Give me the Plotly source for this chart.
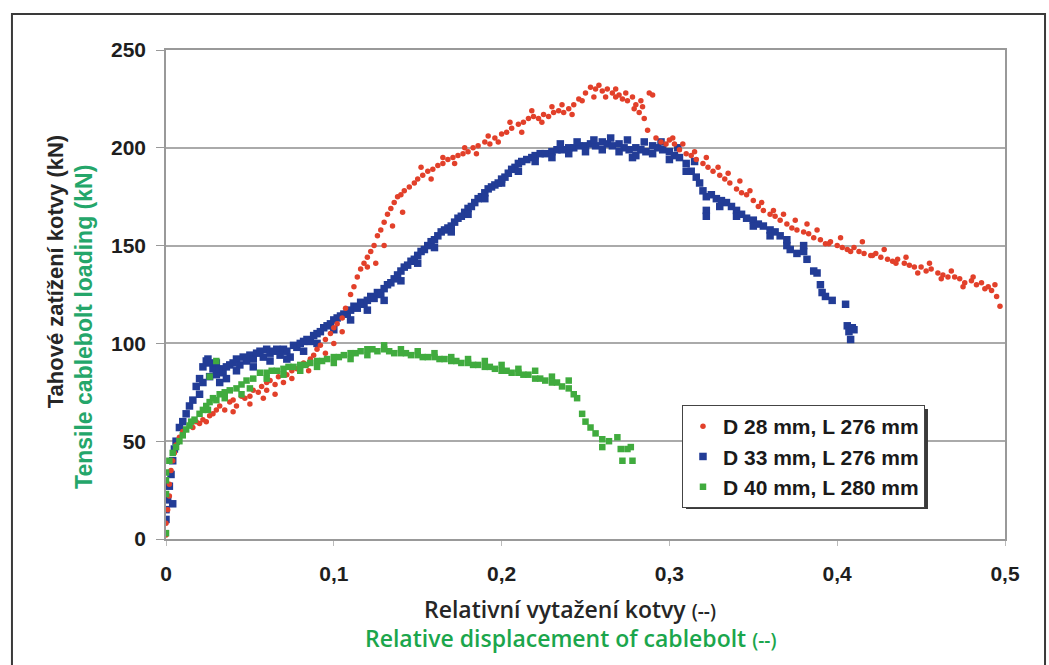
import plotly.graph_objects as go

# Relative displacement (--) and tensile load (kN) for each cablebolt test
d28_x = [0, 0, 0.001, 0.002, 0.002, 0.003, 0.004, 0.005, 0.006, 0.008, 0.01, 0.012, 0.014, 0.016, 0.018,
         0.02, 0.022, 0.024, 0.026, 0.028, 0.03, 0.032, 0.035, 0.038, 0.04, 0.042, 0.045, 0.047, 0.05,
         0.052, 0.055, 0.057, 0.06, 0.06, 0.062, 0.065, 0.067, 0.07, 0.07, 0.072, 0.075, 0.078, 0.08,
         0.082, 0.084, 0.086, 0.088, 0.09, 0.092, 0.095, 0.098, 0.1, 0.102, 0.105, 0.107, 0.11, 0.112,
         0.114, 0.116, 0.118, 0.12, 0.122, 0.124, 0.126, 0.128, 0.13, 0.132, 0.134, 0.136, 0.138, 0.14,
         0.141, 0.142, 0.145, 0.148, 0.15, 0.153, 0.156, 0.159, 0.162, 0.165, 0.168, 0.171, 0.174, 0.177,
         0.18, 0.183, 0.186, 0.19, 0.193, 0.196, 0.2, 0.203, 0.206, 0.21, 0.213, 0.216, 0.219, 0.222,
         0.225, 0.228, 0.231, 0.234, 0.237, 0.24, 0.243, 0.246, 0.25, 0.253, 0.256, 0.258, 0.26, 0.263,
         0.266, 0.268, 0.27, 0.272, 0.275, 0.278, 0.28, 0.282, 0.284, 0.285, 0.287, 0.288, 0.29, 0.292,
         0.295, 0.298, 0.3, 0.303, 0.306, 0.31, 0.313, 0.316, 0.32, 0.323, 0.326, 0.33, 0.333, 0.336,
         0.34, 0.343, 0.346, 0.35, 0.353, 0.356, 0.36, 0.363, 0.366, 0.37, 0.373, 0.376, 0.38, 0.383,
         0.386, 0.39, 0.393, 0.396, 0.4, 0.403, 0.406, 0.41, 0.413, 0.416, 0.42, 0.423, 0.426, 0.43,
         0.433, 0.436, 0.44, 0.443, 0.446, 0.45, 0.453, 0.456, 0.46, 0.463, 0.466, 0.47, 0.473, 0.476,
         0.48, 0.483, 0.486, 0.49, 0.492, 0.495, 0.497,
         # scattered readings around the main band
         0.04, 0.05, 0.058, 0.065, 0.075, 0.085, 0.09, 0.095, 0.1, 0.105, 0.12, 0.125, 0.13, 0.135,
         0.152, 0.158, 0.165, 0.172, 0.178, 0.185, 0.192, 0.198, 0.205, 0.212, 0.218, 0.224, 0.23,
         0.236, 0.242, 0.248, 0.255, 0.262, 0.268, 0.274, 0.279, 0.283, 0.302, 0.308, 0.315, 0.322,
         0.329, 0.335, 0.342, 0.348, 0.355, 0.362, 0.368, 0.375, 0.382, 0.388, 0.395, 0.402, 0.408,
         0.415, 0.421, 0.428, 0.435, 0.441, 0.448, 0.455, 0.462, 0.468, 0.475, 0.481, 0.488, 0.494]
d28_y = [2, 8, 15, 22, 28, 35, 40, 44, 48, 52, 55, 56, 58, 57, 60,
         59, 61, 60, 63, 64, 66, 68, 66, 70, 71, 68, 73, 72, 73,
         76, 75, 78, 80, 76, 81, 79, 83, 80, 85, 84, 86, 87, 88,
         90, 89, 92, 94, 97, 99, 102, 105, 108, 110, 113, 118, 125, 129,
         134, 138, 141, 144, 147, 150, 155, 158, 162, 166, 169, 172, 175, 176,
         167, 178, 180, 182, 184, 186, 188, 189, 191, 192, 194, 195, 196, 197,
         198, 200, 201, 203, 202, 205, 207, 208, 210, 212, 213, 215, 216, 215,
         217, 216, 218, 219, 218, 220, 222, 225, 228, 231, 230, 232, 229, 230,
         228, 226, 227, 225, 224, 226, 222, 218, 221, 215, 209, 228, 227, 205,
         203, 202, 204, 202, 199, 197, 196, 194, 192, 190, 188, 186, 184, 182,
         179, 177, 176, 173, 170, 168, 166, 165, 163, 161, 159, 158, 157, 156,
         154, 153, 151, 152, 150, 149, 148, 149, 147, 146, 145, 146, 144, 143,
         142, 143, 141, 140, 139, 139, 137, 138, 136, 135, 134, 134, 133, 131,
         132, 130, 131, 129, 127, 124, 119,
         65, 69, 72, 74, 82, 86, 90, 95, 100, 106, 139, 141, 150, 160,
         190, 184, 195, 192, 200, 197, 206, 203, 213, 208, 219, 213, 221,
         222, 217, 224, 226, 226, 230, 228, 220, 224, 205, 202, 198, 195,
         190, 187, 183, 178, 172, 168, 166, 163, 161, 158, 151, 154, 147,
         152, 145, 148, 141, 144, 136, 141, 133, 137, 129, 134, 128, 130]

d33_x = [0, 0, 0.001, 0.002, 0.003, 0.004, 0.004, 0.005, 0.006, 0.008, 0.01, 0.012, 0.014, 0.016,
         0.018, 0.02, 0.02, 0.022, 0.022, 0.024, 0.026, 0.026, 0.028, 0.03, 0.03, 0.032, 0.034, 0.036,
         0.036, 0.038, 0.04, 0.042, 0.044, 0.046, 0.048, 0.05, 0.052, 0.054, 0.056, 0.058, 0.06, 0.062,
         0.064, 0.066, 0.068, 0.07, 0.072, 0.074, 0.076, 0.078, 0.08, 0.082, 0.084, 0.086, 0.088, 0.09,
         0.092, 0.094, 0.096, 0.098, 0.1, 0.102, 0.104, 0.106, 0.108, 0.11, 0.112, 0.114, 0.116, 0.118,
         0.12, 0.122, 0.124, 0.126, 0.128, 0.13, 0.132, 0.134, 0.136, 0.138, 0.14, 0.142, 0.144, 0.146,
         0.148, 0.15, 0.152, 0.154, 0.156, 0.158, 0.16, 0.162, 0.164, 0.166, 0.168, 0.17, 0.172, 0.174,
         0.176, 0.178, 0.18, 0.182, 0.184, 0.186, 0.188, 0.19, 0.192, 0.194, 0.196, 0.198, 0.2, 0.202,
         0.204, 0.206, 0.208, 0.21, 0.212, 0.215, 0.218, 0.22, 0.223, 0.226, 0.23, 0.233, 0.236, 0.24,
         0.243, 0.246, 0.25, 0.253, 0.256, 0.26, 0.263, 0.266, 0.27, 0.273, 0.276, 0.278, 0.28, 0.283,
         0.286, 0.29, 0.293, 0.296, 0.3, 0.303, 0.306, 0.31, 0.313, 0.316, 0.318, 0.32, 0.322, 0.322,
         0.322, 0.325, 0.328, 0.331, 0.334, 0.337, 0.34, 0.343, 0.346, 0.35, 0.353, 0.356, 0.36, 0.363,
         0.366, 0.37, 0.372, 0.376, 0.38, 0.382, 0.386, 0.388, 0.39, 0.391, 0.393, 0.397, 0.405, 0.406,
         0.407, 0.408, 0.409, 0.41,
         # scattered readings around the main band
         0.025, 0.032, 0.042, 0.052, 0.062, 0.072, 0.082, 0.09, 0.1, 0.11, 0.12, 0.13, 0.14, 0.15,
         0.16, 0.17, 0.18, 0.19, 0.2, 0.21, 0.22, 0.23, 0.235, 0.24, 0.245, 0.25, 0.255, 0.26, 0.265,
         0.27, 0.275, 0.28, 0.285, 0.29, 0.295, 0.3, 0.305, 0.31, 0.315, 0.33, 0.34, 0.35, 0.36, 0.37,
         0.38]
d33_y = [10, 15, 20, 27, 33, 18, 40, 46, 50, 57, 60, 64, 68, 71,
         78, 82, 74, 88, 80, 91, 90, 83, 87, 84, 90, 87, 85, 88,
         82, 89, 90, 92, 89, 93, 91, 94, 92, 95, 96, 93, 97, 95,
         96, 97, 94, 97, 96, 93, 99, 98, 100, 101, 102, 101, 104, 105,
         106, 108, 109, 110, 112, 113, 114, 115, 115, 117, 119, 118, 121, 120,
         122, 124, 123, 126, 125, 128, 130, 131, 133, 135, 137, 139, 140, 142,
         143, 145, 147, 148, 150, 152, 153, 155, 157, 158, 159, 160, 162, 164,
         165, 167, 169, 170, 172, 174, 175, 177, 179, 180, 181, 182, 184, 185,
         187, 189, 190, 192, 193, 194, 195, 196, 197, 197, 198, 199, 199, 200,
         200, 201, 201, 202, 201, 203, 202, 201, 202, 200, 199, 195, 200, 199,
         198, 201, 200, 199, 198, 196, 195, 192, 188, 185, 182, 178, 175, 168,
         165, 176, 174, 173, 172, 170, 168, 166, 164, 163, 161, 160, 158, 157,
         155, 150, 148, 146, 147, 143, 137, 136, 130, 126, 124, 122, 120, 109,
         106, 102, 108, 107,
         92, 80, 86, 88, 91, 92, 96, 100, 107, 112, 117, 122, 132, 141,
         149, 157, 166, 174, 182, 188, 193, 195, 202, 197, 203, 198, 204, 199, 205,
         198, 204, 196, 203, 197, 203, 194, 200, 188, 193, 170, 165, 160, 155, 153,
         150]

d40_x = [0, 0, 0, 0, 0.002, 0.004, 0.006, 0.008, 0.01, 0.012, 0.014, 0.017, 0.02, 0.022, 0.024,
         0.026, 0.026, 0.028, 0.03, 0.03, 0.032, 0.035, 0.038, 0.042, 0.045, 0.048, 0.052, 0.056, 0.06,
         0.063, 0.066, 0.07, 0.073, 0.076, 0.08, 0.083, 0.086, 0.09, 0.093, 0.096, 0.1, 0.103, 0.106,
         0.11, 0.113, 0.116, 0.12, 0.123, 0.126, 0.13, 0.133, 0.136, 0.14, 0.143, 0.146, 0.15, 0.153,
         0.156, 0.16, 0.163, 0.166, 0.17, 0.173, 0.176, 0.18, 0.183, 0.186, 0.19, 0.193, 0.196, 0.2,
         0.203, 0.206, 0.21, 0.213, 0.216, 0.22, 0.223, 0.226, 0.23, 0.233, 0.236, 0.24, 0.243, 0.245,
         0.248, 0.25, 0.253, 0.256, 0.26, 0.26, 0.264, 0.269, 0.271, 0.272, 0.275, 0.277, 0.278,
         # scattered readings around the main band
         0.015, 0.025, 0.035, 0.045, 0.05, 0.06, 0.07, 0.08, 0.09, 0.1, 0.11, 0.12, 0.13, 0.14, 0.15,
         0.16, 0.17, 0.18, 0.19, 0.2, 0.21, 0.22, 0.23, 0.24]
d40_y = [3, 23, 30, 34, 40, 44, 47, 50, 53, 56, 58, 61, 64, 66, 68,
         70, 83, 72, 71, 91, 74, 75, 76, 77, 79, 81, 82, 85, 85,
         86, 86, 87, 88, 88, 89, 89, 90, 91, 91, 92, 93, 93, 94,
         95, 95, 96, 97, 97, 96, 97, 96, 95, 95, 95, 94, 94, 93,
         93, 93, 92, 92, 91, 91, 90, 90, 89, 89, 88, 88, 87, 86,
         86, 85, 85, 84, 84, 82, 82, 81, 80, 80, 78, 77, 74, 72,
         64, 60, 57, 54, 51, 47, 50, 52, 46, 40, 46, 47, 40,
         60, 66, 72, 74, 77, 82, 84, 86, 88, 90, 92, 94, 99, 97, 96,
         95, 93, 92, 91, 89, 87, 86, 83, 81]

series_names = ["D 28 mm, L 276 mm", "D 33 mm, L 276 mm", "D 40 mm, L 280 mm"]

x_ticks = [0, 0.1, 0.2, 0.3, 0.4, 0.5]
x_tick_text = ["0", "0,1", "0,2", "0,3", "0,4", "0,5"]
y_ticks = [0, 50, 100, 150, 200, 250]

RED = "#e2402a"
BLUE = "#223c96"
GREEN = "#40ab3e"

fig = go.Figure()
fig.add_trace(go.Scatter(x=d33_x, y=d33_y, mode="markers", name=series_names[1],
                         legendrank=2, legendgroup="b",
                         marker=dict(symbol="square", size=7.5, color=BLUE)))
fig.add_trace(go.Scatter(x=d28_x, y=d28_y, mode="markers", name=series_names[0],
                         legendrank=1, legendgroup="a",
                         marker=dict(symbol="circle", size=5.5, color=RED)))
fig.add_trace(go.Scatter(x=d40_x, y=d40_y, mode="markers", name=series_names[2],
                         legendrank=3, legendgroup="c",
                         marker=dict(symbol="square", size=6.5, color=GREEN)))

tick_font = dict(family="Liberation Sans, Arial", size=21, color="#1e1e1e", weight="bold")

fig.update_layout(
    width=1049, height=665,
    margin=dict(l=166, r=44, t=50, b=126),
    paper_bgcolor="white", plot_bgcolor="white",
    showlegend=True,
    legend=dict(
        x=0.615, y=0.274, xanchor="left", yanchor="top",
        bgcolor="white", bordercolor="#444", borderwidth=1,
        font=dict(family="Liberation Sans, Arial", size=21, color="#1a1a1a", weight="bold"),
        itemsizing="trace", tracegroupgap=0, itemwidth=30,
    ),
    xaxis=dict(
        range=[0, 0.5], tickvals=x_ticks, ticktext=x_tick_text,
        showgrid=False, zeroline=False,
        showline=True, linecolor="#999", linewidth=1.5, mirror=True,
        ticks="outside", ticklen=5, tickcolor="#bbb",
        tickfont=tick_font, ticklabelstandoff=10,
    ),
    yaxis=dict(
        range=[0, 250], tickvals=y_ticks,
        showgrid=True, gridcolor="#aaa", gridwidth=1.5, zeroline=False,
        showline=True, linecolor="#999", linewidth=1.5, mirror=True,
        ticks="outside", ticklen=8, tickcolor="#999",
        tickfont=tick_font, ticklabelstandoff=6,
    ),
)

# Outer frame around the whole figure
fig.add_shape(type="rect", xref="paper", yref="paper",
              x0=-0.1836, x1=1.0477, y0=-0.30, y1=1.0736,
              line=dict(color="#3a3a3a", width=2), layer="below")

# Drop shadow behind the legend box
fig.add_shape(type="rect", xref="paper", yref="paper",
              x0=0.6198, x1=0.9082, y0=0.0613, y1=0.2658,
              line=dict(width=0), fillcolor="#3a3a3a", layer="above")

# Bilingual axis titles (Czech / English)
fig.add_annotation(
    xref="paper", yref="paper", x=0.482, y=-0.143, xanchor="center", yanchor="middle",
    showarrow=False,
    text="Relativní vytažení kotvy <span style='font-size:19px'>(--)</span>",
    font=dict(family="Open Sans", size=23, color="#262626", weight=600),
)
fig.add_annotation(
    xref="paper", yref="paper", x=0.482, y=-0.202, xanchor="center", yanchor="middle",
    showarrow=False,
    text="Relative displacement of cablebolt <span style='font-size:19px'>(--)</span>",
    font=dict(family="Open Sans", size=23, color="#1ba64c", weight=600),
)
fig.add_annotation(
    xref="paper", yref="paper", x=-0.132, y=0.546, xanchor="center", yanchor="middle",
    showarrow=False, textangle=-90,
    text="Tahové zatížení kotvy (kN)",
    font=dict(family="Liberation Sans, Arial", size=22, color="#262626", weight="bold"),
)
fig.add_annotation(
    xref="paper", yref="paper", x=-0.097, y=0.433, xanchor="center", yanchor="middle",
    showarrow=False, textangle=-90,
    text="Tensile cablebolt loading (kN)",
    font=dict(family="Liberation Sans, Arial", size=23, color="#24a66a", weight="bold"),
)

fig.write_html("out.html")
